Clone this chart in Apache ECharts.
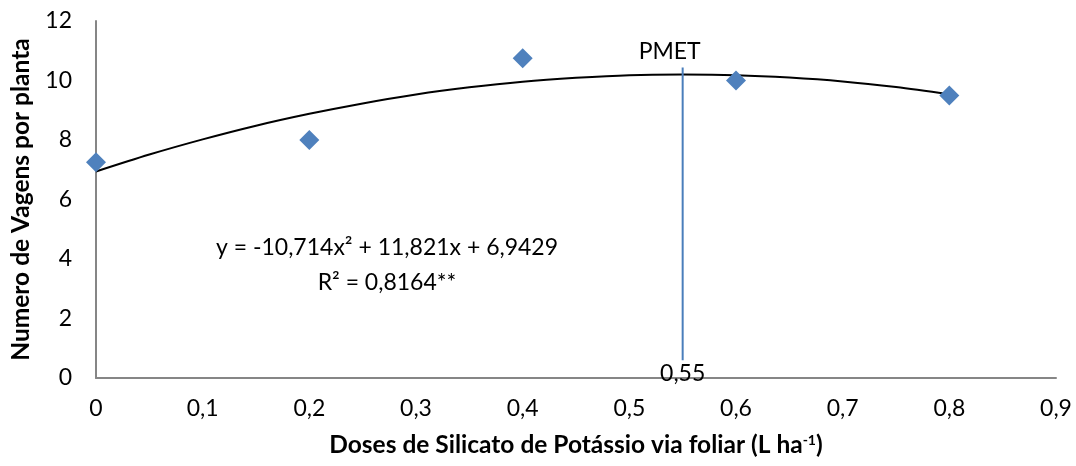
<!DOCTYPE html>
<html><head><meta charset="utf-8">
<script src="https://cdn.jsdelivr.net/npm/echarts@6/dist/echarts.min.js"></script>
<style>html,body{margin:0;padding:0;background:#fff}#c{width:1076px;height:466px}</style>
</head><body><div id="c"></div>
<script>
var doses = [0, 0.2, 0.4, 0.6, 0.8];
var vagens = [7.25, 8.0, 10.75, 10.0, 9.5];
var curveX = [0, 0.05, 0.1, 0.15, 0.2, 0.25, 0.3, 0.35, 0.4, 0.45, 0.5, 0.55, 0.6, 0.65, 0.7, 0.75, 0.8];
var curveY = [6.94, 7.51, 8.02, 8.48, 8.88, 9.23, 9.53, 9.77, 9.96, 10.09, 10.18, 10.20, 10.18, 10.10, 9.97, 9.78, 9.54];
var pmetX = [0.55, 0.55];
var pmetY = [0.6, 10.44];
var pmetLabels = ['0,55', 'PMET'];
var equationText = 'y = -10,714x² + 11,821x + 6,9429';
var r2Text = 'R² = 0,8164**';

var FONT = 'Lato';
var FS = 23;
var TFS = 24.5;
var chart = echarts.init(document.getElementById('c'));
chart.setOption({
  animation: false,
  grid: {left: 96, right: 20, top: 21, bottom: 88},
  xAxis: {
    type: 'value', min: 0, max: 0.9, interval: 0.1,
    axisLine: {lineStyle: {color: '#868686', width: 2}},
    axisTick: {show: false}, splitLine: {show: false},
    axisLabel: {color: '#000', fontFamily: FONT, fontSize: FS, margin: 19,
      formatter: function (v) { return String(Math.round(v * 10) / 10).replace('.', ','); }},
    name: 'Doses de Silicato de Potássio via foliar (L ha{s|-1})',
    nameLocation: 'middle', nameGap: 55,
    nameTextStyle: {color: '#000', fontFamily: FONT, fontSize: TFS, fontWeight: 'bold',
      rich: {s: {fontSize: 14, fontWeight: 'bold', verticalAlign: 'top', padding: [0, 0, 10, 0], fontFamily: FONT}}}
  },
  yAxis: {
    type: 'value', min: 0, max: 12, interval: 2,
    axisLine: {show: true, lineStyle: {color: '#868686', width: 2}},
    axisTick: {show: false}, splitLine: {show: false},
    axisLabel: {color: '#000', fontFamily: FONT, fontSize: FS, margin: 24},
    name: 'Numero de Vagens por planta',
    nameLocation: 'middle', nameGap: 62,
    nameTextStyle: {color: '#000', fontFamily: FONT, fontSize: TFS, fontWeight: 'bold'}
  },
  series: [
    {
      type: 'line', smooth: 0.3, showSymbol: false, silent: true,
      data: curveX.map(function (x, i) { return [x, curveY[i]]; }),
      lineStyle: {color: '#000', width: 2}, z: 2
    },
    {
      type: 'line', showSymbol: true, symbol: 'circle', symbolSize: 0, silent: true,
      data: pmetX.map(function (x, i) { return {value: [x, pmetY[i]], label: {show: true,
        position: i === 0 ? 'bottom' : 'top', distance: i === 0 ? 2 : 4, offset: i === 0 ? [0, 0] : [-13, 0],
        formatter: pmetLabels[i], color: '#000', fontFamily: FONT, fontSize: FS}}; }),
      lineStyle: {color: '#4a7ebb', width: 2}, z: 3
    },
    {
      type: 'scatter', symbol: 'diamond', symbolSize: 20,
      data: doses.map(function (x, i) { return [x, vagens[i]]; }),
      itemStyle: {color: '#4f81bd', opacity: 1}, z: 4
    }
  ],
  graphic: [
    {type: 'text', x: 387, y: 248, style: {text: equationText, align: 'center', verticalAlign: 'middle',
      fontFamily: FONT, fontSize: FS, fill: '#000'}},
    {type: 'text', x: 387, y: 283, style: {text: r2Text, align: 'center', verticalAlign: 'middle',
      fontFamily: FONT, fontSize: FS, fill: '#000'}}
  ]
});
</script></body></html>
